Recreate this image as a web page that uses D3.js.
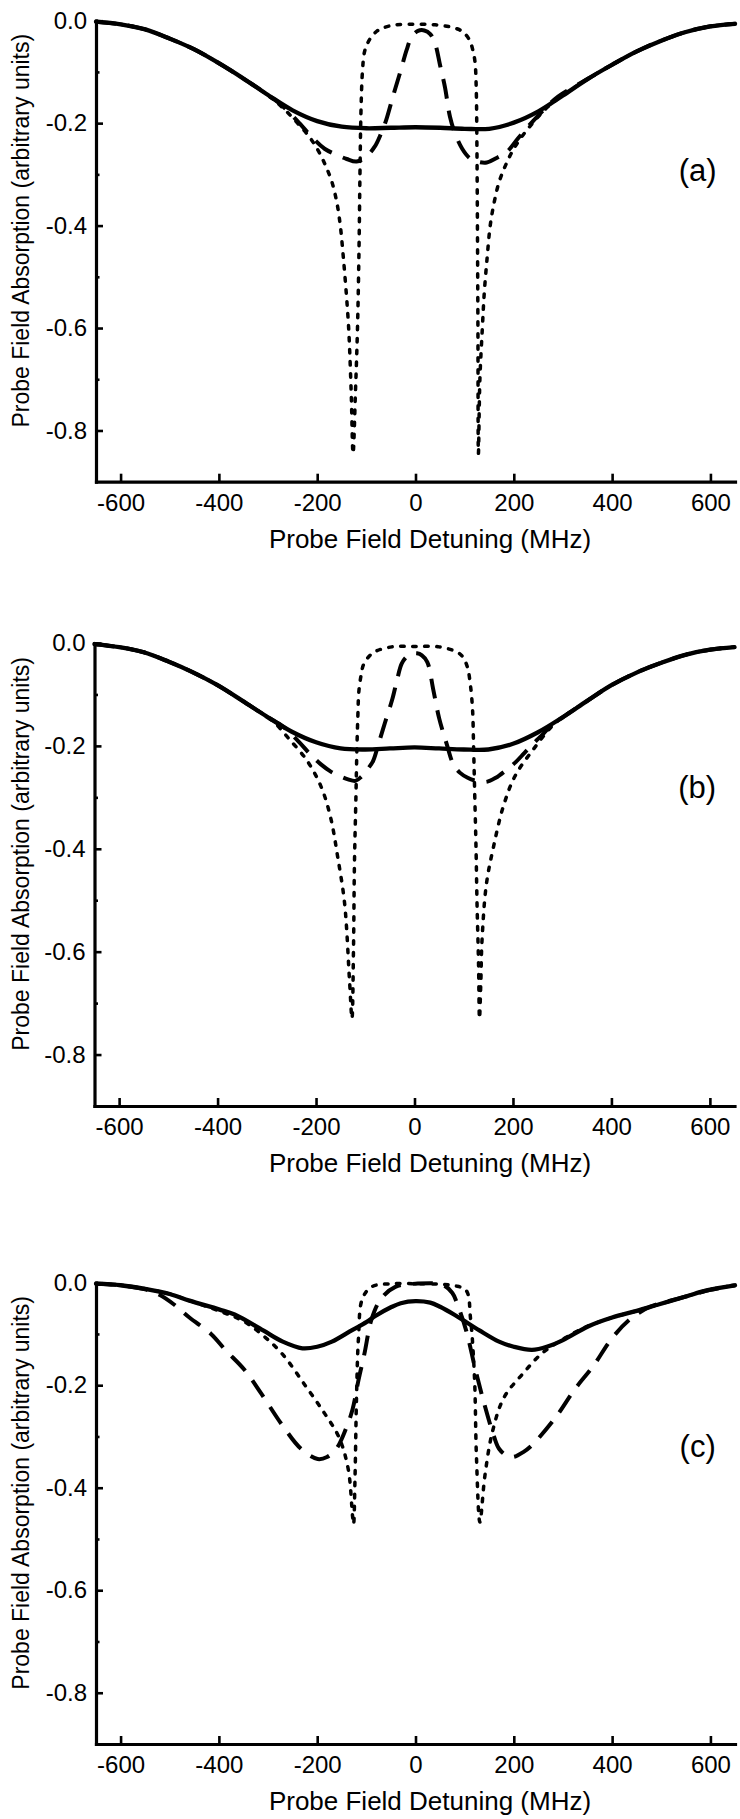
<!DOCTYPE html>
<html>
<head>
<meta charset="utf-8">
<script src="https://cdn.jsdelivr.net/npm/d3@7"></script>
<style>
  body { margin: 0; background: #fff; }
  svg text { font-family: "Liberation Sans", Arial, sans-serif; fill: #000; }
</style>
</head>
<body>
<svg id="chart" width="740" height="1819"></svg>
<script>
// tick values shared by the three panels
const xTicks = [-600, -400, -200, 0, 200, 400, 600];
const yTicks = [0, -0.2, -0.4, -0.6, -0.8];
const yMinorTicks = [-0.1, -0.3, -0.5, -0.7];

// panel (a)
const aSolidX = [-650, -600, -550, -500, -450, -400, -350, -300, -250, -200, -150, -100, -50, 0, 50, 100, 150, 200, 250, 300, 350, 400, 450, 500, 550, 600, 650];
const aSolidY = [-0.002, -0.007, -0.017, -0.035, -0.056, -0.083, -0.113, -0.145, -0.175, -0.196, -0.207, -0.21, -0.209, -0.208, -0.209, -0.211, -0.211, -0.199, -0.177, -0.146, -0.114, -0.086, -0.06, -0.039, -0.022, -0.011, -0.006];
const aDashX = [-650, -600, -550, -500, -450, -400, -350, -300, -270, -240, -210, -185, -160, -140, -120, -100, -83, -70, -60, -45, -30, -18, -8, 5, 18, 30, 40, 50, 60, 70, 80, 95, 110, 125, 145, 165, 186, 210, 240, 265, 290, 350, 400, 450, 500, 550, 600, 650];
const aDashY = [-0.002, -0.007, -0.017, -0.035, -0.056, -0.083, -0.113, -0.145, -0.167, -0.196, -0.228, -0.25, -0.262, -0.27, -0.275, -0.265, -0.246, -0.22, -0.195, -0.145, -0.097, -0.057, -0.032, -0.02, -0.019, -0.026, -0.045, -0.087, -0.13, -0.187, -0.219, -0.25, -0.268, -0.275, -0.277, -0.268, -0.256, -0.228, -0.195, -0.17, -0.148, -0.114, -0.086, -0.06, -0.039, -0.022, -0.011, -0.006];
const aDotX = [-650, -600, -550, -500, -450, -400, -350, -300, -270, -240, -215, -197, -182, -170, -160, -153, -147, -141, -136, -131, -127, -122, -118, -115, -113, -111, -108, -104, -98, -90, -78, -66, -40, 0, 40, 70, 90, 100, 110, 116, 121, 123.5, 125, 126, 127, 128, 131, 136, 140, 146, 152, 160, 170, 182, 197, 215, 240, 265, 290, 350, 400, 450, 500, 550, 600, 650];
const aDotY = [-0.002, -0.007, -0.017, -0.035, -0.056, -0.083, -0.113, -0.146, -0.17, -0.2, -0.228, -0.255, -0.285, -0.315, -0.355, -0.4, -0.46, -0.53, -0.6, -0.72, -0.845, -0.72, -0.6, -0.45, -0.3, -0.18, -0.1, -0.062, -0.045, -0.032, -0.02, -0.014, -0.008, -0.007, -0.008, -0.012, -0.018, -0.025, -0.038, -0.055, -0.08, -0.13, -0.25, -0.4, -0.6, -0.845, -0.7, -0.6, -0.53, -0.46, -0.4, -0.355, -0.315, -0.285, -0.255, -0.228, -0.198, -0.172, -0.152, -0.114, -0.086, -0.06, -0.039, -0.022, -0.011, -0.006];

// panel (b)
const bSolidX = [-650, -600, -550, -500, -450, -400, -350, -300, -250, -200, -150, -100, -50, 0, 50, 100, 150, 200, 250, 300, 350, 400, 450, 500, 550, 600, 650];
const bSolidY = [-0.002, -0.008, -0.018, -0.036, -0.057, -0.082, -0.112, -0.143, -0.172, -0.193, -0.205, -0.207, -0.205, -0.203, -0.205, -0.207, -0.207, -0.196, -0.174, -0.145, -0.113, -0.082, -0.058, -0.039, -0.023, -0.013, -0.008];
const bDashX = [-650, -600, -550, -500, -450, -400, -350, -300, -266, -240, -210, -190, -170, -151, -135, -120, -108, -95, -84, -74, -60, -45, -35, -26, -15, -5, 5, 15, 26, 38, 50, 65, 79, 92, 108, 125, 146, 165, 185, 205, 223, 242, 262, 280, 300, 350, 400, 450, 500, 550, 600, 650];
const bDashY = [-0.002, -0.008, -0.018, -0.036, -0.057, -0.082, -0.112, -0.143, -0.163, -0.187, -0.218, -0.236, -0.25, -0.259, -0.265, -0.268, -0.26, -0.245, -0.229, -0.199, -0.155, -0.109, -0.07, -0.04, -0.026, -0.021, -0.02, -0.024, -0.037, -0.09, -0.146, -0.195, -0.236, -0.252, -0.262, -0.268, -0.27, -0.262, -0.248, -0.232, -0.214, -0.195, -0.176, -0.158, -0.145, -0.113, -0.082, -0.058, -0.039, -0.023, -0.013, -0.008];
const bDotX = [-650, -600, -550, -500, -450, -400, -350, -300, -285, -257, -218, -189, -170, -156, -142, -132, -127, -124, -122, -119, -117, -115, -113, -108, -103, -84, -46, 0, 50, 89, 100, 108, 114, 118, 120, 122, 125, 127, 130, 132, 135, 137, 146, 161, 180, 204, 242, 280, 300, 350, 400, 450, 500, 550, 600, 650];
const bDotY = [-0.002, -0.008, -0.018, -0.036, -0.057, -0.082, -0.112, -0.143, -0.154, -0.184, -0.229, -0.281, -0.341, -0.416, -0.506, -0.656, -0.73, -0.6, -0.431, -0.3, -0.206, -0.14, -0.094, -0.06, -0.041, -0.019, -0.0075, -0.007, -0.0075, -0.019, -0.03, -0.049, -0.085, -0.131, -0.2, -0.281, -0.4, -0.506, -0.62, -0.73, -0.65, -0.581, -0.469, -0.394, -0.319, -0.259, -0.206, -0.161, -0.145, -0.113, -0.082, -0.058, -0.039, -0.023, -0.013, -0.008];

// panel (c)
const cSolidX = [-650, -600, -550, -500, -460, -400, -368, -310, -270, -230, -200, -170, -128, -100, -80, -50, -30, 0, 30, 50, 80, 100, 130, 170, 200, 237, 270, 300, 352, 400, 450, 496, 550, 592, 650];
const cSolidY = [-0.002, -0.005, -0.012, -0.022, -0.035, -0.052, -0.062, -0.093, -0.115, -0.128, -0.125, -0.115, -0.092, -0.077, -0.064, -0.048, -0.04, -0.036, -0.039, -0.047, -0.063, -0.075, -0.093, -0.115, -0.125, -0.131, -0.124, -0.112, -0.085, -0.068, -0.055, -0.042, -0.027, -0.015, -0.005];
const cDashX = [-650, -600, -550, -520, -492, -460, -416, -387, -348, -314, -271, -233, -199, -180, -161, -142, -128, -116, -104, -89, -70, -41, 0, 55, 75, 84, 103, 122, 141, 160, 170, 185, 199, 220, 237, 285, 324, 362, 400, 438, 477, 500, 550, 600, 650];
const cDashY = [-0.002, -0.005, -0.013, -0.024, -0.042, -0.068, -0.1, -0.131, -0.17, -0.216, -0.278, -0.324, -0.344, -0.34, -0.324, -0.286, -0.247, -0.19, -0.139, -0.07, -0.031, -0.008, -0.002, -0.004, -0.02, -0.039, -0.093, -0.17, -0.24, -0.301, -0.324, -0.337, -0.34, -0.33, -0.317, -0.263, -0.208, -0.162, -0.108, -0.07, -0.047, -0.04, -0.027, -0.014, -0.005];
const cDotX = [-650, -600, -550, -500, -460, -400, -350, -310, -271, -224, -185, -156, -137, -128, -126, -123, -120, -116, -108, -89, -51, 0, 50, 80, 103, 112, 120, 124, 131, 141, 156, 180, 218, 256, 304, 343, 400, 450, 496, 550, 592, 650];
const cDotY = [-0.002, -0.005, -0.012, -0.022, -0.035, -0.055, -0.075, -0.103, -0.139, -0.201, -0.255, -0.301, -0.363, -0.456, -0.471, -0.378, -0.224, -0.108, -0.031, -0.008, -0.002, -0.002, -0.003, -0.006, -0.015, -0.07, -0.185, -0.34, -0.467, -0.378, -0.293, -0.224, -0.178, -0.139, -0.108, -0.088, -0.068, -0.055, -0.042, -0.027, -0.015, -0.005];

const panelLabels = ["(a)", "(b)", "(c)"];

let svg = d3.select("#chart");

let panels = [
    { label: panelLabels[0], labelAt: [574, -0.295], left: 96, right: 735, top: 20.7, bottom: 481.7,
      series: [[aSolidX, aSolidY, "solid"], [aDashX, aDashY, "dash"], [aDotX, aDotY, "dot"]] },
    { label: panelLabels[1], labelAt: [574, -0.283], left: 94.5, right: 734.5, top: 643, bottom: 1106,
      series: [[bSolidX, bSolidY, "solid"], [bDashX, bDashY, "dash"], [bDotX, bDotY, "dot"]] },
    { label: panelLabels[2], labelAt: [574, -0.322], left: 96, right: 735, top: 1282.7, bottom: 1744,
      series: [[cSolidX, cSolidY, "solid"], [cDashX, cDashY, "dash"], [cDotX, cDotY, "dot"]] }
];

let lineStyles = {
    solid: { width: 4.3, dash: null, cap: "round" },
    dash: { width: 4, dash: "20,12", cap: "butt" },
    dot: { width: 3.5, dash: "3.5,8.5", cap: "round" }
};

function drawPanel(p) {
    let x = d3.scaleLinear().domain([-650, 650]).range([p.left, p.right]);
    let y = d3.scaleLinear().domain([-0.9, 0]).range([p.bottom, p.top]);
    let g = svg.append("g");

    // Data curves.
    let line = d3.line()
        .x(d => x(d[0]))
        .y(d => y(d[1]))
        .curve(d3.curveCatmullRom.alpha(0.5));
    p.series.forEach(s => {
        let pts = s[0].map((v, i) => [v, s[1][i]]);
        let st = lineStyles[s[2]];
        g.append("path")
            .attr("d", line(pts))
            .attr("fill", "none")
            .attr("stroke", "#000")
            .attr("stroke-width", st.width)
            .attr("stroke-linecap", st.cap)
            .attr("stroke-linejoin", "round")
            .attr("stroke-dasharray", st.dash);
    });

    // Axes, ticks point inward.
    let xAxis = g.append("g")
        .attr("transform", "translate(0," + p.bottom + ")")
        .call(d3.axisBottom(x).tickValues(xTicks).tickSize(-8).tickSizeOuter(0).tickPadding(12)
            .tickFormat(d => String(d)));
    let yMinor = g.append("g")
        .attr("transform", "translate(" + p.left + ",0)")
        .call(d3.axisLeft(y).tickValues(yMinorTicks).tickSize(-3.5).tickFormat(""));
    yMinor.select(".domain").remove();
    let yAxis = g.append("g")
        .attr("transform", "translate(" + p.left + ",0)")
        .call(d3.axisLeft(y).tickValues(yTicks).tickSize(-7).tickSizeOuter(0).tickPadding(9)
            .tickFormat(d => d.toFixed(1)));

    [xAxis, yAxis, yMinor].forEach(a => {
        a.selectAll(".domain").attr("stroke-width", 3.2).attr("stroke-linecap", "square");
        a.selectAll(".tick line").attr("stroke-width", 2.6);
        a.selectAll("text").style("font-size", "24px").attr("fill", "#000");
    });

    // Axis titles.
    g.append("text")
        .attr("x", 430)
        .attr("y", p.bottom + 66)
        .attr("text-anchor", "middle")
        .style("font-size", "26px")
        .text("Probe Field Detuning (MHz)");
    g.append("text")
        .attr("transform", "translate(21," + y(-0.41) + ") rotate(-90)")
        .attr("text-anchor", "middle")
        .attr("dy", "0.35em")
        .style("font-size", "23px")
        .text("Probe Field Absorption (arbitrary units)");

    // Panel letter.
    g.append("text")
        .attr("x", x(p.labelAt[0]))
        .attr("y", y(p.labelAt[1]))
        .attr("dy", "0.3em")
        .attr("text-anchor", "middle")
        .style("font-size", "31px")
        .text(p.label);
}

panels.forEach(drawPanel);
</script>
</body>
</html>
